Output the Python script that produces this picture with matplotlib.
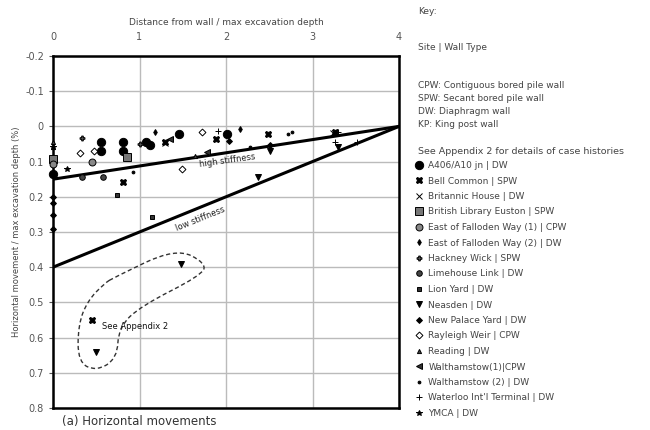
import numpy as np
import matplotlib
matplotlib.use("Agg")
import matplotlib.pyplot as plt
from matplotlib.path import Path
from matplotlib.patches import PathPatch
from matplotlib.lines import Line2D

plt.rcParams['font.family'] = ['DejaVu Sans']

# site -> (marker, facecolor, size, x values, y values)
sites = ["A406/A10 jn | DW", "Bell Common | SPW", "Britannic House | DW",
         "British Library Euston | SPW", "East of Falloden Way (1) | CPW",
         "East of Falloden Way (2) | DW", "Hackney Wick | SPW", "Limehouse Link | DW",
         "Lion Yard | DW", "Neasden | DW", "New Palace Yard | DW", "Rayleigh Weir | CPW",
         "Reading | DW", "Walthamstow(1)|CPW", "Walthamstow (2) | DW",
         "Waterloo Int'l Terminal | DW", "YMCA | DW"]
markers = ["o", "X", "x", "s", "o", "d", "P", "o", "s", "v", "D", "D", "^", "<", ".", "+", "*"]
colors = ["black", "black", "black", "#777777", "#888888", "black", "#555555", "#444444",
          "#333333", "black", "black", "white", "#444444", "#333333", "black", "black", "black"]
sizes = [6, 5, 4, 6, 5, 3, 3.5, 4, 3.5, 5, 3, 3.5, 3, 4, 4, 4, 4]

xs = [[0.56, 0.56, 0.81, 0.81, 1.08, 1.12, 1.46, 2.01, 0.0],
      [0.81, 1.29, 1.89, 2.49, 3.26, 0.45],
      [1.30, 3.24],
      [0.86, 0.0],
      [0.45, 0.0],
      [1.18, 2.16],
      [0.34, 1.0],
      [0.33, 0.58],
      [0.74, 1.14],
      [2.37, 2.51, 1.48, 0.50, 3.30],
      [2.03, 2.51, 0.0, 0.0, 0.0, 0.0],
      [1.72, 1.49, 0.31, 0.47],
      [0.0, 0.0, 1.64],
      [1.35, 1.78],
      [2.28, 2.72, 2.76, 0.93],
      [1.91, 3.30, 3.26, 3.51],
      [0.16, 0.0]]
ys = [[0.045, 0.071, 0.045, 0.069, 0.045, 0.054, 0.022, 0.022, 0.134],
      [0.158, 0.045, 0.036, 0.022, 0.017, 0.55],
      [0.048, 0.02],
      [0.087, 0.092],
      [0.101, 0.106],
      [0.017, 0.008],
      [0.033, 0.05],
      [0.144, 0.143],
      [0.195, 0.256],
      [0.144, 0.069, 0.392, 0.64, 0.059],
      [0.042, 0.054, 0.2, 0.219, 0.252, 0.291],
      [0.017, 0.12, 0.075, 0.07],
      [0.045, 0.059, 0.085],
      [0.036, 0.073],
      [0.059, 0.022, 0.017, 0.13],
      [0.012, 0.017, 0.045, 0.045],
      [0.12, 0.059]]

# bounding lines
high_x = [0, 4]
high_y = [0.15, 0.0]
low_x = [0, 4]
low_y = [0.4, 0.0]

# outline round the "See Appendix 2" cases
loop_x = [0.70, 1.42, 1.78, 1.70, 1.02, 0.76, 0.74, 0.50, 0.29, 0.29, 0.40, 0.60]
loop_y = [0.43, 0.345, 0.39, 0.425, 0.51, 0.57, 0.66, 0.695, 0.67, 0.565, 0.495, 0.445]

fig = plt.figure(figsize=(6.5, 4.3), dpi=100)
ax = fig.add_axes([53 / 650, 1 - 408 / 430, 346 / 650, 352 / 430])

ax.set_xlim(0, 4)
ax.set_ylim(0.8, -0.2)
ax.set_xticks([0, 1, 2, 3, 4])
ax.set_yticks(np.arange(-0.2, 0.81, 0.1))
ax.set_yticklabels(["-0.2", "-0.1", "0", "0.1", "0.2", "0.3", "0.4", "0.5", "0.6", "0.7", "0.8"])
ax.xaxis.tick_top()
ax.xaxis.set_label_position("top")
ax.tick_params(axis="both", labelsize=7, colors="#555555", length=3, width=0.8)
ax.tick_params(axis="x", length=0, pad=10)
ax.set_xlabel("Distance from wall / max excavation depth", fontsize=6.5, color="#444444", labelpad=5)
ax.set_ylabel("Horizontal movement / max excavation depth (%)", fontsize=6, color="#444444", labelpad=3)
ax.grid(True, color="#bbbbbb", linewidth=1.0)
for s in ax.spines.values():
    s.set_linewidth(1.8)

ax.plot(high_x, high_y, color="black", lw=2.2, zorder=3)
ax.plot(low_x, low_y, color="black", lw=2.2, zorder=3)
ax.text(2.02, 0.096, "high stiffness", fontsize=6, rotation=8, ha="center", va="center", color="#222222")
ax.text(1.70, 0.262, "low stiffness", fontsize=6, rotation=22, ha="center", va="center", color="#222222")

handles = []
for name, m, c, sz, x, y in zip(sites, markers, colors, sizes, xs, ys):
    ax.plot(x, y, linestyle="none", marker=m, markersize=sz, markerfacecolor=c,
            markeredgecolor="black", markeredgewidth=0.7, zorder=4, clip_on=False)
    handles.append(Line2D([], [], linestyle="none", marker=m, markersize=sz,
                          markerfacecolor=c, markeredgecolor="black", markeredgewidth=0.7, label=name))

# smooth closed dashed outline
pts = np.column_stack([loop_x, loop_y])
mids = (pts + np.roll(pts, -1, axis=0)) / 2
verts = [mids[-1]]
codes = [Path.MOVETO]
for p, m in zip(pts, mids):
    verts += [p, m]
    codes += [Path.CURVE3, Path.CURVE3]
ax.add_patch(PathPatch(Path(verts, codes), fill=False, linestyle=(0, (3, 2)), lw=1.0,
                       edgecolor="#333333", zorder=3))
ax.text(0.95, 0.568, "See Appendix 2", fontsize=6, ha="center", va="center", color="#111111")

fig.text(62 / 650, 1 - 422 / 430, "(a) Horizontal movements", fontsize=8.5, color="#333333", va="center")

# key
kc = "#444444"
fig.text(418 / 650, 1 - 11 / 430, "Key:", fontsize=6.5, color=kc, va="center")
fig.text(418 / 650, 1 - 47 / 430, "Site | Wall Type", fontsize=6.5, color=kc, va="center")
for i, t in enumerate(["CPW: Contiguous bored pile wall", "SPW: Secant bored pile wall",
                       "DW: Diaphragm wall", "KP: King post wall"]):
    fig.text(418 / 650, 1 - (85 + 13.3 * i) / 430, t, fontsize=6.5, color=kc, va="center")
fig.text(418 / 650, 1 - 152 / 430, "See Appendix 2 for details of case histories",
         fontsize=6.8, color=kc, va="center")
leg = fig.legend(handles=handles, loc="upper left", bbox_to_anchor=(414 / 650, 1 - 161 / 430),
                 frameon=False, fontsize=6.5, labelspacing=0.72, handlelength=1.0,
                 handletextpad=0.6, borderpad=0, borderaxespad=0)
for t in leg.get_texts():
    t.set_color(kc)

fig.savefig("out.png", dpi=100)
